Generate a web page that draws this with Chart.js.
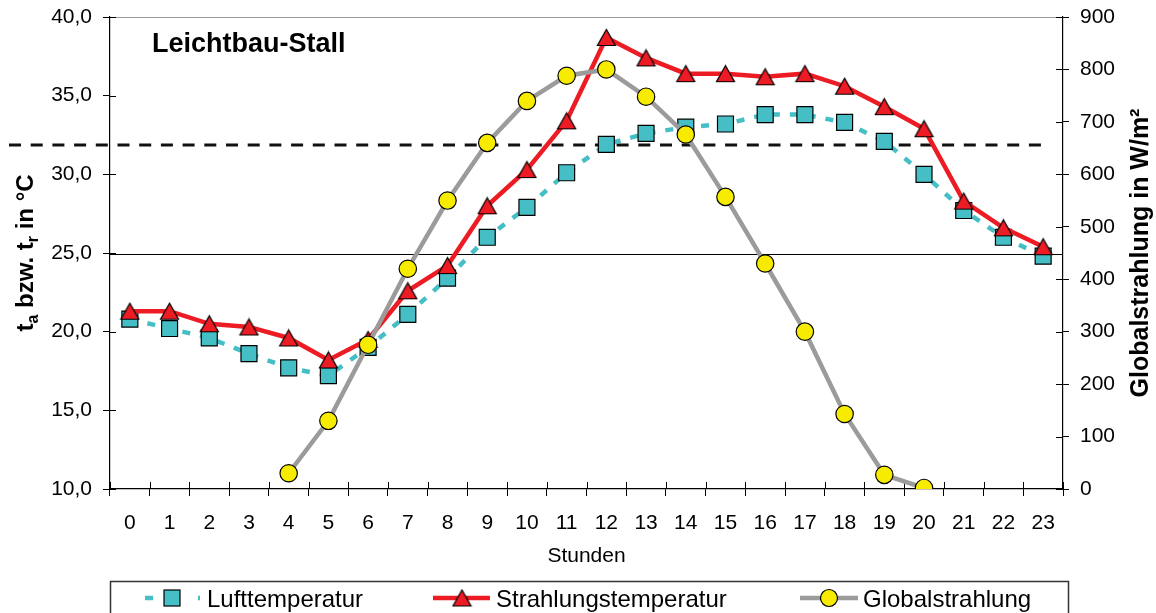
<!DOCTYPE html>
<html>
<head>
<meta charset="utf-8">
<script src="https://cdn.jsdelivr.net/npm/chart.js@4.4.0/dist/chart.umd.min.js"></script>
<style>
html,body{margin:0;padding:0;background:#fff;}
#wrap{position:relative;width:1156px;height:613px;}
</style>
</head>
<body>
<div id="wrap"><canvas id="c"></canvas></div>
<script>
// ---- data ----
const hours = ['0','1','2','3','4','5','6','7','8','9','10','11','12','13','14','15','16','17','18','19','20','21','22','23'];
const lufttemperatur = [20.8, 20.2, 19.6, 18.6, 17.7, 17.2, 19.0, 21.1, 23.4, 26.0, 27.9, 30.1, 31.9, 32.6, 33.0, 33.2, 33.8, 33.8, 33.3, 32.1, 30.0, 27.7, 26.0, 24.8];
const strahlungstemperatur = [21.3, 21.3, 20.5, 20.3, 19.6, 18.2, 19.5, 22.6, 24.2, 28.0, 30.3, 33.4, 38.7, 37.4, 36.4, 36.4, 36.2, 36.4, 35.6, 34.3, 32.9, 28.3, 26.6, 25.4];
const globalstrahlung = [null, null, null, null, 30, 130, 275, 420, 550, 660, 740, 788, 800, 748, 676, 557, 430, 300, 143, 27, 2, null, null, null];
const leftTicks = [10, 15, 20, 25, 30, 35, 40];
const rightTicks = [0, 100, 200, 300, 400, 500, 600, 700, 800, 900];
const refSolid = 24.95;   // thin solid reference line (°C)
const refDashed = 31.87;  // dashed reference line (°C)

const FONT = "'Liberation Sans', Arial, Helvetica, sans-serif";
const CYAN = '#45BFC5', RED = '#ED1C24', GRAY = '#9B9B9B', YELLOW = '#F7EC00';

// triangle marker image (bbox-centred like the original)
function triCanvas(){
  const c = document.createElement('canvas');
  c.width = 21; c.height = 19;
  const g = c.getContext('2d');
  g.beginPath();
  g.moveTo(1.5, 17.5); g.lineTo(19.5, 17.5); g.lineTo(10.5, 1.5); g.closePath();
  g.fillStyle = RED; g.fill();
  g.lineWidth = 1.2; g.strokeStyle = '#000'; g.lineJoin = 'miter'; g.stroke();
  return c;
}
const TRI = triCanvas();

function fmtComma(v){ return Number(v).toFixed(1).replace('.', ','); }

const decor = {
  id: 'decor',
  beforeDatasetsDraw(chart){
    const ctx = chart.ctx, a = chart.chartArea;
    const y = chart.scales.y;
    ctx.save();
    // top border
    ctx.strokeStyle = '#9a9a9a'; ctx.lineWidth = 1.2;
    ctx.beginPath(); ctx.moveTo(a.left, a.top + 0.5); ctx.lineTo(a.right, a.top + 0.5); ctx.stroke();
    // solid reference
    const ys = Math.round(y.getPixelForValue(refSolid)) + 0.5;
    ctx.strokeStyle = '#000'; ctx.lineWidth = 1.2;
    ctx.beginPath(); ctx.moveTo(a.left, ys); ctx.lineTo(a.right, ys); ctx.stroke();
    // dashed reference
    const yd = y.getPixelForValue(refDashed);
    ctx.lineWidth = 3; ctx.strokeStyle = '#111'; ctx.setLineDash([12, 9.7]);
    ctx.beginPath(); ctx.moveTo(a.left - 101, yd); ctx.lineTo(a.right - 13, yd); ctx.stroke();
    ctx.setLineDash([]);
    // inner halves of tick marks
    ctx.strokeStyle = '#000'; ctx.lineWidth = 1;
    y.ticks.forEach((t, i) => {
      const p = Math.round(y.getPixelForTick(i)) + 0.5;
      ctx.beginPath(); ctx.moveTo(a.left, p); ctx.lineTo(a.left + 6, p); ctx.stroke();
    });
    const y1 = chart.scales.y1;
    y1.ticks.forEach((t, i) => {
      const p = Math.round(y1.getPixelForTick(i)) + 0.5;
      ctx.beginPath(); ctx.moveTo(a.right, p); ctx.lineTo(a.right - 7, p); ctx.stroke();
    });
    const x = chart.scales.x;
    const n = x.ticks.length, step = (a.right - a.left) / n;
    for (let i = 0; i <= n; i++){
      const p = Math.round(a.left + i * step) + 0.5;
      ctx.beginPath(); ctx.moveTo(p, a.bottom); ctx.lineTo(p, a.bottom - 7); ctx.stroke();
    }
    ctx.restore();
  },
  afterDraw(chart){
    const ctx = chart.ctx, a = chart.chartArea;
    ctx.save();
    ctx.fillStyle = '#000';
    // chart title inside the plot
    ctx.font = 'bold 27px ' + FONT;
    ctx.textAlign = 'left'; ctx.textBaseline = 'alphabetic';
    ctx.fillText('Leichtbau-Stall', 152, 52);
    // x title
    ctx.font = '21px ' + FONT;
    ctx.textAlign = 'center';
    ctx.fillText('Stunden', (a.left + a.right) / 2, 562);
    // left title with subscripts
    const parts = [['t', false], ['a', true], [' bzw. t', false], ['r', true], [' in °C', false]];
    const big = 'bold 24px ' + FONT, small = 'bold 16px ' + FONT;
    let total = 0;
    parts.forEach(p => { ctx.font = p[1] ? small : big; total += ctx.measureText(p[0]).width; });
    ctx.save();
    ctx.translate(33, (a.top + a.bottom) / 2);
    ctx.rotate(-Math.PI / 2);
    ctx.textAlign = 'left';
    let cx = -total / 2;
    parts.forEach(p => {
      ctx.font = p[1] ? small : big;
      ctx.fillText(p[0], cx, p[1] ? 5 : 0);
      cx += ctx.measureText(p[0]).width;
    });
    ctx.restore();
    // right title
    ctx.save();
    ctx.translate(1148, (a.top + a.bottom) / 2);
    ctx.rotate(-Math.PI / 2);
    ctx.font = 'bold 25px ' + FONT;
    ctx.textAlign = 'center';
    ctx.fillText('Globalstrahlung in W/m²', 0, 0);
    ctx.restore();

    // legend box
    ctx.strokeStyle = '#333'; ctx.lineWidth = 1.5;
    ctx.strokeRect(110.5, 581.5, 958, 60);
    const ly = 598;
    // Lufttemperatur symbol
    ctx.strokeStyle = CYAN; ctx.lineWidth = 4.5;
    ctx.beginPath(); ctx.moveTo(145, ly); ctx.lineTo(153, ly); ctx.stroke();
    ctx.beginPath(); ctx.moveTo(198, ly); ctx.lineTo(200, ly); ctx.stroke();
    ctx.fillStyle = CYAN; ctx.fillRect(164, ly - 8, 16, 16);
    ctx.strokeStyle = '#000'; ctx.lineWidth = 1.2; ctx.strokeRect(164, ly - 8, 16, 16);
    // Strahlungstemperatur symbol
    ctx.strokeStyle = RED; ctx.lineWidth = 4.5;
    ctx.beginPath(); ctx.moveTo(433, ly); ctx.lineTo(490, ly); ctx.stroke();
    ctx.drawImage(TRI, 462 - 10.5, ly - 9.5);
    // Globalstrahlung symbol
    ctx.strokeStyle = GRAY; ctx.lineWidth = 4.5;
    ctx.beginPath(); ctx.moveTo(800, ly); ctx.lineTo(858, ly); ctx.stroke();
    ctx.beginPath(); ctx.arc(829, ly, 8.5, 0, Math.PI * 2);
    ctx.fillStyle = YELLOW; ctx.fill();
    ctx.strokeStyle = '#000'; ctx.lineWidth = 1.2; ctx.stroke();
    // legend texts
    ctx.fillStyle = '#000';
    ctx.font = '24px ' + FONT;
    ctx.textAlign = 'left';
    ctx.fillText('Lufttemperatur', 207, 607);
    ctx.fillText('Strahlungstemperatur', 496, 607);
    ctx.fillText('Globalstrahlung', 863, 607);
    ctx.restore();
  }
};

function noPad(s){ s.paddingTop = 0; s.paddingBottom = 0; }

new Chart(document.getElementById('c'), {
  type: 'line',
  data: {
    labels: hours,
    datasets: [
      {
        label: 'Globalstrahlung', data: globalstrahlung, yAxisID: 'y1', order: 0,
        borderColor: GRAY, borderWidth: 4.5, tension: 0,
        pointStyle: 'circle', pointRadius: 8.7, pointBackgroundColor: YELLOW,
        pointBorderColor: '#000', pointBorderWidth: 1.2
      },
      {
        label: 'Strahlungstemperatur', data: strahlungstemperatur, yAxisID: 'y', order: 1,
        borderColor: RED, borderWidth: 4.5, tension: 0,
        pointStyle: TRI, pointRadius: 10
      },
      {
        label: 'Lufttemperatur', data: lufttemperatur, yAxisID: 'y', order: 2,
        borderColor: CYAN, borderWidth: 4.5, borderDash: [8, 10], tension: 0,
        pointStyle: 'rect', pointRadius: 11.3, pointBackgroundColor: CYAN,
        pointBorderColor: '#000', pointBorderWidth: 1.2
      }
    ]
  },
  options: {
    responsive: true, maintainAspectRatio: false, animation: false,
    layout: { padding: { top: 17, left: 0, right: 0, bottom: 0 } },
    plugins: { legend: { display: false }, tooltip: { enabled: false } },
    scales: {
      x: {
        type: 'category', offset: true,
        grid: { offset: true, drawOnChartArea: false, tickLength: 7, color: '#000', lineWidth: 1 },
        border: { display: true, color: '#000', width: 1.2 },
        ticks: { color: '#000', font: { family: FONT, size: 21 }, padding: 15, maxRotation: 0, autoSkip: false },
        afterFit(s){ s.height = 124; s.paddingLeft = 0; s.paddingRight = 0; }
      },
      y: {
        position: 'left', min: 10, max: 40,
        afterBuildTicks(s){ s.ticks = leftTicks.map(v => ({ value: v })); },
        grid: { drawOnChartArea: false, tickLength: 7, color: '#000' },
        border: { display: true, color: '#000', width: 1.2 },
        ticks: { color: '#000', font: { family: FONT, size: 21 }, padding: 11, callback: v => fmtComma(v) },
        afterFit(s){ s.width = 110; noPad(s); }
      },
      y1: {
        position: 'right', min: 0, max: 900,
        afterBuildTicks(s){ s.ticks = rightTicks.map(v => ({ value: v })); },
        grid: { drawOnChartArea: false, tickLength: 6, color: '#000' },
        border: { display: true, color: '#000', width: 1.2 },
        ticks: { color: '#000', font: { family: FONT, size: 21 }, padding: 11, callback: v => String(v) },
        afterFit(s){ s.width = 93; noPad(s); }
      }
    }
  },
  plugins: [decor]
});
</script>
</body>
</html>
